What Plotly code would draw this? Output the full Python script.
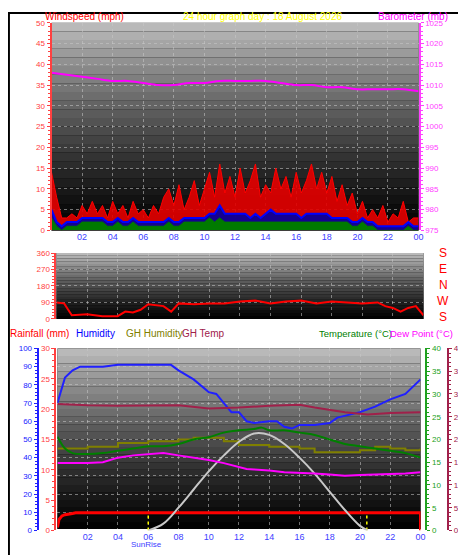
import plotly.graph_objects as go

# ---------------- data ----------------
wind_t = [i/3 for i in range(73)]
gust = [14,8,3, 3,4,3, 6,4,7, 4,6,3, 7,4,6, 3,7,4, 5,3,6, 4,8,10, 6,11,5, 8,12,6,
        10,14,8, 16,9,13, 8,15,9, 12,16,8, 11,9,15, 10,13,8, 14,9,12, 16,10,14,
        9,13,7, 11,6,9, 4,7,3, 5,3,6, 2,4,3, 7,2,3, 3]
avg = [5,2,1, 2,2,2, 3,3,3, 3,3,2, 2,3,2, 2,3,2, 2,2,2, 2,2,3, 2,2,3, 3,3,3,
       3,4,4, 6,4,4, 4,4,4, 3,4,3, 4,5,4, 4,4,4, 4,3,4, 4,4,4, 4,3,3, 3,3,2,
       2,3,2, 2,1,1, 1,1,1, 1,2,1, 1]
lull = [3,1,0, 1,1,1, 2,2,2, 2,2,1, 1,2,1, 1,2,1, 1,1,1, 1,1,2, 1,1,2, 2,2,2,
        2,3,2, 3,2,2, 2,2,2, 2,2,2, 2,2,2, 2,2,2, 2,2,2, 2,2,2, 2,2,2, 2,2,1,
        1,2,1, 1,0,0, 0,0,0, 0,1,0, 0]
baro_t = list(range(25))
baro = [1013,1012.5,1012,1011.5,1011,1011,1010.5,1010,1010,1010.5,1010.5,1011,1011,
        1011,1011,1010.5,1010,1010,1009.5,1009.5,1009,1009,1009,1009,1008.5]

dir_t = [0,0.5,1,2,3,4,4.5,5,5.5,6,7,7.5,8,9,10,11,12,13,14,15,16,17,18,19,20,21,21.5,22,22.5,23,23.5,24]
wdir = [90,85,20,25,15,15,40,35,50,80,70,40,85,80,85,85,95,100,85,95,100,85,95,90,85,90,70,60,40,60,70,20]

hum_t = [0,0.5,1,1.5,2,3,4,5,6,7,7.5,8,9,10,10.5,11,11.5,12,12.5,13,14,14.5,15,15.5,16,17,18,18.5,19,20,21,22,23,24]
hum = [70,84,88,90,90,90,91,91,91,91,91,88,83,76,75,70,65,65,60,59,60,60,57,56,58,58,59,62,63,65,68,72,75,83]
rain_t = [0,0.1,0.3,0.5,1,1.2,24,24]
rain = [0.5,1.8,2.4,2.6,2.8,2.9,2.9,0]
ght_t = [0,2,4,6,8,10,12,14,16,17,19,20.5,22,24]
ght = [27.8,27.5,27.4,27.5,27.5,26.8,27,27.4,27.6,27,26,25.5,25.8,26]
ghh_t = [0,2,4,6,8,9,10,11,12,14,16,17,19,20,21,22,23,24]
ghh = [45,46,48,49,50,51,51,49,47,46,45,43,43,44,46,45,44,45]
temp_t = [0,0.5,1,2,3,4,5,6,7,8,9,10,11,12,13,13.5,14,15,16,17,18,19,20,21,22,23,24]
temp = [20.6,18,17,16.8,17,17.5,18,18.5,18.5,19,20,20.5,21.5,22,22.3,22.6,22,22,21.5,21,20,19,18.5,18,17.5,17,16]
dew_t = [0,2,3,4,5,6,7,8,9,10,11,12,12.5,13,14,15,16,17,18,19,20,21,22,23,24]
dew = [14.8,14.8,15,16,16.5,16.8,17,16.5,16,15.5,14.8,14,13.5,13.4,13.2,12.8,12.7,12.5,12.3,12,12.2,12.3,12.4,12.5,12.8]
sol_t = [6,7,8,9,10,11,12,13,14,15,16,17,18,19,20,20.5]
sol = [0,1.5,5,9,13,16.5,19.5,21.3,21,19,16,12.5,8.5,4.5,1,0]
sunrise, sunset = 6.0, 20.45

xticks = [2,4,6,8,10,12,14,16,18,20,22,24]
xtext = ["02","04","06","08","10","12","14","16","18","20","22","00"]

W, H = 466, 555
def px(x): return x / W
def py(y): return 1 - y / H

fig = go.Figure()
F = "Liberation Sans"

# panel 1
fig.add_trace(go.Scatter(x=wind_t, y=gust, mode="lines", line=dict(color="#ff0000", width=1),
                         fill="tozeroy", fillcolor="rgba(230,0,0,0.9)", xaxis="x", yaxis="y"))
fig.add_trace(go.Scatter(x=wind_t, y=avg, mode="lines", line=dict(color="#0000ff", width=2),
                         fill="tozeroy", fillcolor="rgba(0,0,160,0.9)", xaxis="x", yaxis="y"))
fig.add_trace(go.Scatter(x=wind_t, y=lull, mode="lines", line=dict(color="#007a00", width=1),
                         fill="tozeroy", fillcolor="#007a00", xaxis="x", yaxis="y"))
fig.add_trace(go.Scatter(x=baro_t, y=baro, mode="lines", line=dict(color="#ff00ff", width=2, shape="spline"),
                         xaxis="x", yaxis="y2"))
# panel 2
fig.add_trace(go.Scatter(x=dir_t, y=wdir, mode="lines", line=dict(color="#ff0000", width=2), xaxis="x2", yaxis="y3"))
# panel 3
fig.add_trace(go.Scatter(x=sol_t, y=sol, mode="lines", line=dict(color="#c8c8c8", width=2, shape="spline"), xaxis="x3", yaxis="y6"))
fig.add_trace(go.Scatter(x=ght_t, y=ght, mode="lines", line=dict(color="#a0204a", width=2), xaxis="x3", yaxis="y7"))
fig.add_trace(go.Scatter(x=ghh_t, y=ghh, mode="lines", line=dict(color="#808000", width=2, shape="hv"), xaxis="x3", yaxis="y4"))
fig.add_trace(go.Scatter(x=temp_t, y=temp, mode="lines", line=dict(color="#008000", width=2, shape="spline"), xaxis="x3", yaxis="y6"))
fig.add_trace(go.Scatter(x=dew_t, y=dew, mode="lines", line=dict(color="#ff00ff", width=2), xaxis="x3", yaxis="y6"))
fig.add_trace(go.Scatter(x=hum_t, y=hum, mode="lines", line=dict(color="#2020ff", width=2), xaxis="x3", yaxis="y4"))
fig.add_trace(go.Scatter(x=rain_t, y=rain, mode="lines", line=dict(color="#ff0000", width=3), xaxis="x3", yaxis="y5"))
for s in (sunrise, sunset):
    fig.add_trace(go.Scatter(x=[s, s], y=[0, 10], mode="lines", line=dict(color="#ffff00", width=1.5, dash="dot"),
                             xaxis="x3", yaxis="y4"))

grid = dict(showgrid=True, gridcolor="rgba(200,200,200,0.55)", griddash="dot", gridwidth=1, zeroline=False)
def xax(dom, anchor, labels=True):
    return dict(domain=dom, range=[0, 24], anchor=anchor, tickvals=xticks, ticktext=xtext,
                showticklabels=labels, tickfont=dict(color="#4040ff", size=9, family=F), ticks="", **grid)
def yax(rng, dtick, color, side="left", **kw):
    return dict(range=rng, dtick=dtick, side=side, tickfont=dict(color=color, size=8, family=F),
                ticks="outside", ticklen=3, tickcolor=color, showline=True, linecolor=color, linewidth=2,
                minor=dict(dtick=dtick/5, ticks="outside", ticklen=2, tickcolor=color), **kw)

d1 = [px(44), px(415)]; d2 = [px(49), px(420)]; d3 = [px(50), px(417)]
fig.update_layout(
    width=W, height=H, margin=dict(l=0, r=0, t=0, b=0), showlegend=False,
    paper_bgcolor="white", plot_bgcolor="black",
    xaxis=xax(d1, "y"),
    yaxis=yax([0, 50], 5, "#ff4040", domain=[py(222), py(11)], anchor="x", **grid),
    yaxis2=yax([975, 1025], 5, "#ff40ff", side="right", overlaying="y", anchor="x", showgrid=False),
    xaxis2=xax(d2, "y3", labels=False),
    yaxis3=yax([0, 360], 90, "#ff4040", domain=[py(312), py(245)], anchor="x2", **grid),
    xaxis3=xax(d3, "y5"),
    yaxis4=yax([0, 100], 10, "#2020ff", domain=[py(527), py(342)], anchor="free", position=px(30), **grid),
    yaxis5=yax([0, 30], 5, "#ff4040", overlaying="y4", anchor="free", position=px(48), showgrid=False),
    yaxis6=yax([0, 40], 5, "#20a020", side="right", overlaying="y4", anchor="free", position=px(423), showgrid=False),
    yaxis7=yax([0, 40], 5, "#a0204a", side="right", overlaying="y4", anchor="free", position=px(445), showgrid=False),
)

# gradient backgrounds
shapes = []
N = 24
for xr, yr in (("x", "y"), ("x2", "y3"), ("x3", "y4")):
    for i in range(N):
        g = int(185 * (1 - i / N) ** 1.3)
        shapes.append(dict(type="rect", xref=f"{xr} domain", yref=f"{yr} domain", x0=0, x1=1,
                           y0=1 - (i + 1) / N, y1=1 - i / N, line=dict(width=0),
                           fillcolor=f"rgb({g},{g},{g})", layer="below"))
shapes.append(dict(type="rect", xref="paper", yref="paper", x0=0.002, x1=0.998, y0=0.002, y1=0.998,
                   line=dict(color="black", width=2)))
fig.update_layout(shapes=shapes)

def ann(text, x, y, color, size=10, xanchor="left"):
    fig.add_annotation(text=text, x=px(x), y=py(y), xref="paper", yref="paper", showarrow=False,
                       font=dict(color=color, size=size, family=F), xanchor=xanchor, yanchor="middle")
ann("Windspeed (mph)", 35, 5, "#ff0000")
ann("24 hour graph day : 18 August 2026", 257, 5, "#ffff00", xanchor="center")
ann("Barometer (mb)", 372, 5, "#ff00ff")
for lab, v in zip(["S", "E", "N", "W", "S"], [360, 270, 180, 90, 0]):
    ann(lab, 440, 310 - v / 360 * 65, "#ff0000", size=12, xanchor="center")
ann("Rainfall (mm)", 0, 327, "#ff0000")
ann("Humidity", 67, 327, "#0000ff")
ann("GH Humidity", 117, 327, "#808000")
ann("GH Temp", 174, 327, "#a0204a")
ann("Temperature (°C)", 312, 327, "#008000", size=9.5)
ann("Dew Point (°C)", 452, 327, "#ff00ff", size=9.5, xanchor="right")
ann("SunRise", 140, 541, "#4040ff", size=8, xanchor="center")

fig.write_html("out.html")
